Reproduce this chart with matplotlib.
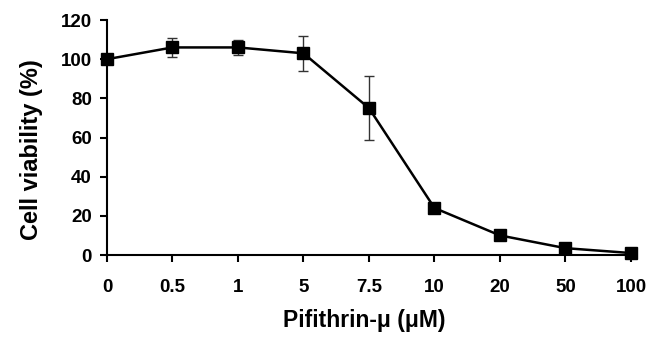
import numpy as np
import matplotlib.pyplot as plt

# Data
doses = ['0', '0.5', '1', '5', '7.5', '10', '20', '50', '100']
viability = [100, 106, 106, 103, 75, 24, 10, 3.5, 1]
errors = [0, 5, 4, 9, 16.5, 0, 0, 0, 0]

plt.rcParams['font.family'] = ['Liberation Sans', 'DejaVu Sans']
plt.rcParams['font.weight'] = 'bold'

fig = plt.figure(figsize=(6.54, 3.37), dpi=100)
ax = fig.add_axes([0.1636, 0.2433, 0.8012, 0.6973])

x = np.arange(len(doses))
ax.errorbar(x, viability, yerr=errors, fmt='none', ecolor='#333333',
            elinewidth=1, capsize=3.6, capthick=1, zorder=2)
ax.plot(x, viability, color='black', lw=1.8, marker='s', ms=9,
        mfc='black', mec='black', zorder=3, clip_on=False)

ax.set_xlim(0, len(doses) - 1)
ax.set_ylim(0, 120)
ax.set_xticks(x)
ax.set_xticklabels(doses)
ax.set_yticks(np.arange(0, 121, 20))

for s in ['top', 'right']:
    ax.spines[s].set_visible(False)
for s in ['left', 'bottom']:
    ax.spines[s].set_linewidth(1.5)

ax.tick_params(axis='both', direction='out', length=5, width=1.5,
               labelsize=13.5, colors='black')
ax.tick_params(axis='x', pad=12.5)
ax.tick_params(axis='y', pad=5.8)

fig.text(364 / 654, 1 - 320 / 337, 'Pifithrin-μ (μM)', fontsize=16.5,
         fontweight='bold', ha='center', va='center')
fig.text(32 / 654, 1 - 150 / 337, 'Cell viability (%)', fontsize=17,
         fontweight='bold', ha='center', va='center', rotation=90)

fig.savefig('out.png', dpi=100)
